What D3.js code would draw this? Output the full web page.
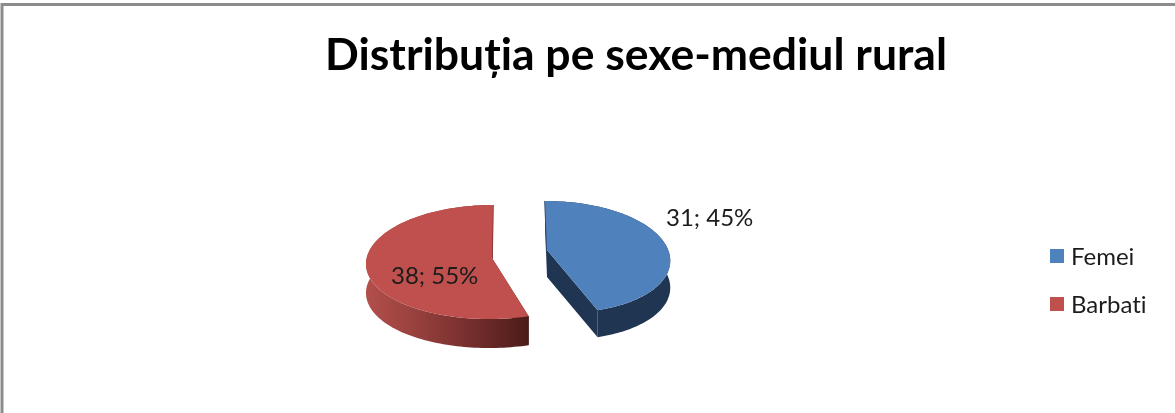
<!DOCTYPE html>
<html><head><meta charset="utf-8">
<script src="https://cdn.jsdelivr.net/npm/d3@7/dist/d3.min.js"></script>
<style>html,body{margin:0;padding:0;background:#fff}svg{display:block;filter:blur(0.45px)}text{font-family:Lato,Carlito,"Open Sans",sans-serif;fill:#1c1c1c;font-variant-ligatures:none}</style>
</head><body><svg id="c" width="1175" height="413"></svg>
<script>
const titleText = "Distribuția pe sexe-mediul rural";
const categories = ["Femei", "Barbati"];
const values = [31, 38];
const percents = ["45%", "55%"];
const topColors = ["#4f81bd", "#c0504d"];

const W = 1175, H = 413;
const svg = d3.select("#c");
const defs = svg.append("defs");
const redWall = defs.append("linearGradient").attr("id","redWall").attr("gradientUnits","userSpaceOnUse")
  .attr("x1",366).attr("x2",528).attr("y1",0).attr("y2",0);
[[0,"#b34f4b"],[0.3,"#98413e"],[0.65,"#742e2c"],[1,"#4c1c1a"]].forEach(s=>redWall.append("stop").attr("offset",s[0]).attr("stop-color",s[1]));

svg.append("path").attr("d",`M2 ${H} V4.5 H${W}`).attr("fill","none").attr("stroke","#8c8c8c").attr("stroke-width",3);

// slice placement: apex, half-axes, depth and the perspective terms of the tilted disc
const geom = [
  {cx:547, cy:250, rx:123, a:56, b:7, c:7, t:7.5, s:5.5, depth:27, wall:"#1f3552", thin:"#2a4466"},
  {cx:492, cy:258, rx:126, a:57, b:4, c:5, t:-2, s:-1, depth:29, wall:"url(#redWall)", thin:"#7c3331"}
];
const pie = d3.pie().sort(null).value(d=>d)(values);
const line = d3.line();

pie.forEach((p,i)=>{
  const g = geom[i];
  const proj = ang=>{
    const u=Math.sin(ang), v=-Math.cos(ang);
    return [g.cx + g.rx*u + g.t*v + g.s*v*v, g.cy + g.a*v + g.b*v*v + g.c*u*u];
  };
  const arc = d3.range(0,121).map(j=>proj(p.startAngle+(p.endAngle-p.startAngle)*j/120));
  const down = pts=>pts.map(q=>[q[0],q[1]+g.depth]);
  const apex=[g.cx,g.cy];
  const gg = svg.append("g");
  // outer wall
  gg.append("path").attr("d",line(arc.concat(down(arc).reverse()))+"Z").attr("fill",g.wall);
  // cut walls: the edge running to the back shows only as a sliver
  [arc[0],arc[120]].forEach(e=>{
    const c=[apex,e];
    const toBack = e[1]<g.cy;
    gg.append("path").attr("d",line(c.concat(down(c).reverse()))+"Z").attr("fill",toBack?g.thin:g.wall);
    if(toBack) gg.append("path").attr("d",line(c)).attr("fill","none").attr("stroke",g.thin).attr("stroke-width",1.6);
  });
  gg.append("path").attr("d",line(arc.concat([apex]))+"Z").attr("fill",topColors[i]);
});

const t = (x,y,s,size,w,col)=>svg.append("text").attr("x",x).attr("y",y).attr("font-size",size).attr("font-weight",w||400).style("fill",col||null).text(s);
t(325,70,titleText,44.5,700,"#000");
t(666,226,`${values[0]}; ${percents[0]}`,24);
t(391,284,`${values[1]}; ${percents[1]}`,24);

const legY = d3.scalePoint().domain(categories).range([249,297]);
categories.forEach((c,i)=>{
  svg.append("rect").attr("x",1050).attr("y",legY(c)).attr("width",14).attr("height",14).attr("fill",topColors[i]);
  t(1071,legY(c)+16,c,24);
});
</script></body></html>
